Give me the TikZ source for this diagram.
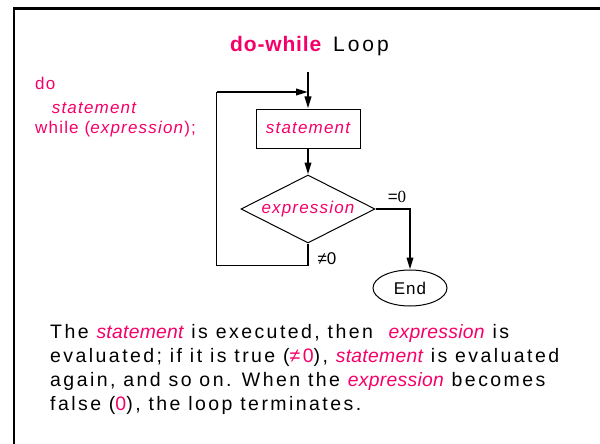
\documentclass[tikz,border=0pt]{standalone}
\usepackage{fontspec}
\usetikzlibrary{shapes.geometric,arrows.meta}
\setmainfont{Liberation Sans}
\newfontfamily\fBlk[LetterSpace=12.5]{Liberation Sans}
\newfontfamily\fMag[LetterSpace=1.5]{Liberation Sans}
\newfontfamily\fCod[LetterSpace=7]{Liberation Sans}
\newfontfamily\fTit[LetterSpace=14]{Liberation Sans}
\newfontfamily\fTitB[LetterSpace=4]{Liberation Sans}
\newfontfamily\fLbl[LetterSpace=6]{Liberation Sans}
\newfontfamily\fZero{Liberation Serif}
\definecolor{hot}{RGB}{245,0,105}
\newcommand\hi[1]{\textcolor{hot}{\fMag\itshape\fontsize{19.3}{22}\selectfont #1}}
\tikzset{
  txt/.style={inner sep=0pt, anchor=base west},
  codetxt/.style={txt, text=hot, font=\fCod\fontsize{17}{20}\selectfont},
  bodytxt/.style={txt, font=\fBlk\fontsize{19.5}{22}\selectfont},
  stmtbox/.style={draw, line width=1pt, minimum width=104, minimum height=39, inner sep=0pt,
    text=hot, font=\fCod\itshape\fontsize{17}{20}\selectfont},
  decision/.style={diamond, draw, line width=1pt, aspect=2, minimum width=134, minimum height=68,
    inner sep=0pt, text=hot, font=\fCod\itshape\fontsize{17}{20}\selectfont},
  endnode/.style={ellipse, draw, line width=1pt, minimum width=74, minimum height=36, inner sep=0pt,
    font=\fLbl\fontsize{17}{20}\selectfont},
  flowarrow/.style={line width=2pt, -{Triangle[length=12pt,width=6.5pt]}},
  loopline/.style={line width=1.3pt},
  edgelbl/.style={inner sep=0pt, font=\fontsize{17}{20}\selectfont},
}
\begin{document}
\begin{tikzpicture}[x=1pt, y=-1pt]
\useasboundingbox (0,0) rectangle (600,444);
% outer frame (left and top edges)
\draw[line width=2.2pt] (14,444) -- (14,8.5) -- (600,8.5);

% heading
\node[txt, font=\fTitB\bfseries\fontsize{21}{24}\selectfont, text=hot] (ttl) at (230,52) {do-while};
\node[txt, font=\fTit\fontsize{21}{24}\selectfont] (ttl2) at (333,52) {Loop};

% syntax
\node[codetxt] (c1) at (35,89.3) {do};
\node[codetxt] (c2) at (51.7,113.3) {\itshape statement};
\node[codetxt] (c3) at (35,133.3) {while (\textit{expression});};

% flowchart
\coordinate (top) at (308,72);
\node[stmtbox] (stmt) at (308,128.5) {statement};
\node[decision] (expr) at (308,209) {expression};
\node[endnode] (end) at (410,288) {End};
\coordinate (lpbl) at (216.5,265.5);
\coordinate (lptop) at (216.5,92);

\draw[flowarrow] (top) -- (stmt.north);
\draw[flowarrow] (stmt.south) -- (expr.north);
\draw[loopline] (expr.south) -- (expr.south |- lpbl) -- (lpbl) -- (lptop);
\draw[flowarrow] (lptop) -- (lptop -| top);
\draw[flowarrow] (expr.east) -| (end.north);

\node[edgelbl] (eq) at (397,197) {={\fZero 0}};
\node[edgelbl] (ne) at (327,259) {≠0};

% explanation
\node[bodytxt] (b1) at (50,338.5) {The \hi{statement} is executed, then\ \ \hi{expression} is};
\node[bodytxt] (b2) at (50,362.5) {evaluated; if it is true (\textcolor{hot}{≠0}), \hi{statement} is evaluated};
\node[bodytxt] (b3) at (50,386.5) {again, and so on. When the \hi{expression} becomes};
\node[bodytxt] (b4) at (50,410.5) {false (\textcolor{hot}{0}), the loop terminates.};
\end{tikzpicture}
\end{document}
